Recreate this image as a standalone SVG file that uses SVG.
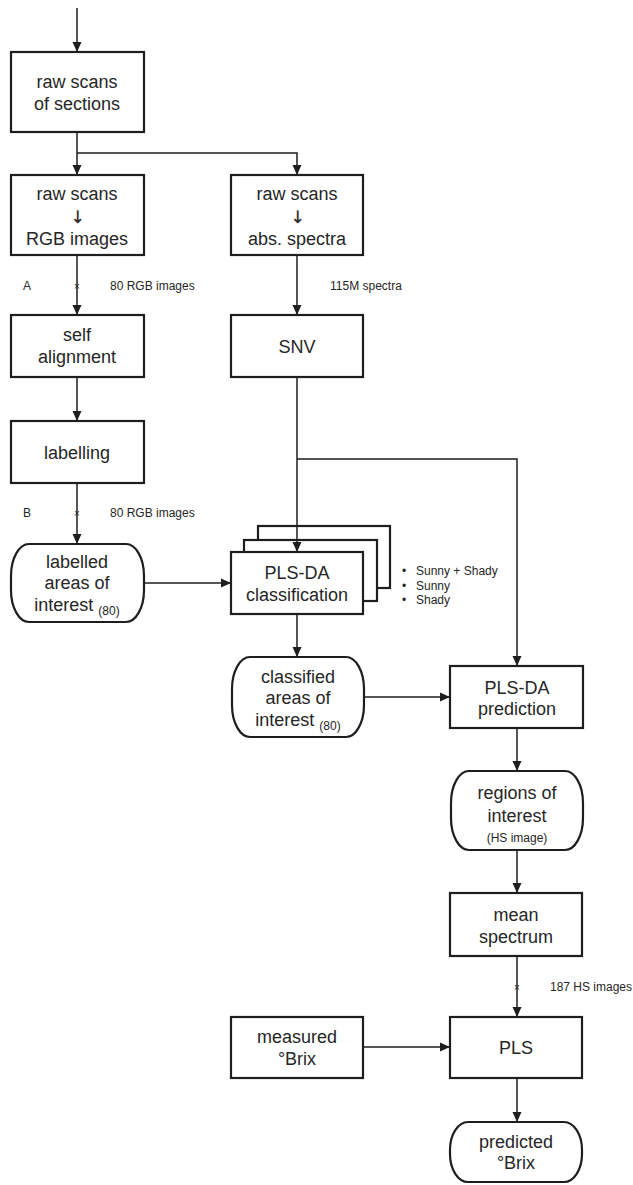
<svg xmlns="http://www.w3.org/2000/svg" width="633" height="1185" viewBox="0 0 633 1185">
<style>
.box{fill:#fff;stroke:#1e1e1e;stroke-width:2.2}
.t{font-family:"Liberation Sans",Arial,sans-serif;font-size:18px;fill:#262626;text-anchor:middle}
.arr{font-family:"DejaVu Sans",sans-serif;font-size:17px;fill:#262626;stroke:#262626;stroke-width:0.3;text-anchor:middle}
.s{font-family:"Liberation Sans",Arial,sans-serif;font-size:12px;fill:#262626}
.sub{font-size:12px}
.c{fill:none;stroke:#1e1e1e;stroke-width:1.5}
.x{font-family:"Liberation Sans",Arial,sans-serif;font-size:10px;fill:#262626;text-anchor:middle}
</style>
<defs>
<marker id="ah" markerUnits="userSpaceOnUse" markerWidth="11" markerHeight="11" refX="10" refY="5.5" orient="auto">
<path d="M0,1 L10,5.5 L0,10 z" fill="#1e1e1e"/>
</marker>
</defs>
<rect width="633" height="1185" fill="#fff"/>
<g id="n_raw_sections"><rect class="box" x="11" y="52" width="133" height="80"/><text class="t" x="77" y="88">raw scans</text><text class="t" x="77" y="110">of sections</text></g>
<g id="n_rgb"><rect class="box" x="11" y="175" width="133" height="80"/><text class="t" x="77" y="200">raw scans</text><text class="arr" x="77.5" y="223">↓</text><text class="t" x="77" y="245">RGB images</text></g>
<g id="n_abs"><rect class="box" x="231" y="175" width="132" height="80"/><text class="t" x="297" y="200">raw scans</text><text class="arr" x="297.5" y="223">↓</text><text class="t" x="297" y="245">abs. spectra</text></g>
<g id="n_self"><rect class="box" x="11" y="315" width="133" height="62"/><text class="t" x="77" y="341">self</text><text class="t" x="77" y="363">alignment</text></g>
<g id="n_snv"><rect class="box" x="231" y="315" width="132" height="62"/><text class="t" x="297" y="353">SNV</text></g>
<g id="n_label"><rect class="box" x="11" y="421" width="133" height="62"/><text class="t" x="77" y="459">labelling</text></g>
<g id="n_labelled"><rect class="box" x="11" y="544" width="133" height="78" rx="18" ry="32"/><text class="t" x="77" y="568">labelled</text><text class="t" x="77" y="589">areas of</text><text class="t" x="77" y="611">interest <tspan class="sub" dy="4">(80)</tspan></text></g>
<g id="n_plsda_class"><rect class="box" x="258" y="526" width="132" height="62"/><rect class="box" x="244" y="540" width="133" height="61"/><rect class="box" x="231" y="552" width="132" height="62"/><text class="t" x="297" y="579">PLS-DA</text><text class="t" x="297" y="601">classification</text></g>
<g id="n_classified"><rect class="box" x="232" y="657" width="132" height="80" rx="18" ry="32"/><text class="t" x="298" y="683">classified</text><text class="t" x="298" y="704">areas of</text><text class="t" x="298" y="726">interest <tspan class="sub" dy="4">(80)</tspan></text></g>
<g id="n_plsda_pred"><rect class="box" x="450" y="666" width="133" height="62"/><text class="t" x="517" y="694">PLS-DA</text><text class="t" x="517" y="715">prediction</text></g>
<g id="n_regions"><rect class="box" x="451" y="771" width="132" height="79" rx="18" ry="32"/><text class="t" x="517" y="799">regions of</text><text class="t" x="517" y="822">interest</text><text class="s" x="517" y="842" text-anchor="middle">(HS image)</text></g>
<g id="n_mean"><rect class="box" x="450" y="893" width="132" height="63"/><text class="t" x="516" y="921">mean</text><text class="t" x="516" y="943">spectrum</text></g>
<g id="n_measured"><rect class="box" x="231" y="1017" width="132" height="61"/><text class="t" x="297" y="1043">measured</text><text class="t" x="297" y="1065">°Brix</text></g>
<g id="n_pls"><rect class="box" x="450" y="1017" width="132" height="61"/><text class="t" x="516" y="1054">PLS</text></g>
<g id="n_predicted"><rect class="box" x="450" y="1122" width="132" height="60" rx="18" ry="28"/><text class="t" x="516" y="1148">predicted</text><text class="t" x="516" y="1169">°Brix</text></g>
<g id="connectors">
<path class="c" d="M77,8 V52" marker-end="url(#ah)"/>
<path class="c" d="M77,132 V175" marker-end="url(#ah)"/>
<path class="c" d="M77,153 H297 V175" marker-end="url(#ah)"/>
<path class="c" d="M77,255 V315" marker-end="url(#ah)"/>
<path class="c" d="M297,255 V315" marker-end="url(#ah)"/>
<path class="c" d="M77,377 V421" marker-end="url(#ah)"/>
<path class="c" d="M77,483 V544" marker-end="url(#ah)"/>
<path class="c" d="M297,377 V552" marker-end="url(#ah)"/>
<path class="c" d="M297,459 H517 V666" marker-end="url(#ah)"/>
<path class="c" d="M144,583 H231" marker-end="url(#ah)"/>
<path class="c" d="M297,614 V657" marker-end="url(#ah)"/>
<path class="c" d="M364,697 H450" marker-end="url(#ah)"/>
<path class="c" d="M517,728 V771" marker-end="url(#ah)"/>
<path class="c" d="M517,850 V893" marker-end="url(#ah)"/>
<path class="c" d="M517,956 V1017" marker-end="url(#ah)"/>
<path class="c" d="M363,1047 H450" marker-end="url(#ah)"/>
<path class="c" d="M517,1078 V1122" marker-end="url(#ah)"/>
</g>
<g id="labels">
<text class="s" x="23" y="290">A</text>
<text class="x" x="77" y="290">×</text>
<text class="s" x="110" y="290">80 RGB images</text>
<text class="s" x="330" y="290">115M spectra</text>
<text class="s" x="23" y="517">B</text>
<text class="x" x="77" y="517">×</text>
<text class="s" x="110" y="517">80 RGB images</text>
<text class="s" x="402" y="575">•</text><text class="s" x="416" y="575">Sunny + Shady</text>
<text class="s" x="402" y="590">•</text><text class="s" x="416" y="590">Sunny</text>
<text class="s" x="402" y="604">•</text><text class="s" x="416" y="604">Shady</text>
<text class="x" x="517" y="991">×</text>
<text class="s" x="550" y="991">187 HS images</text>
</g>
</svg>
